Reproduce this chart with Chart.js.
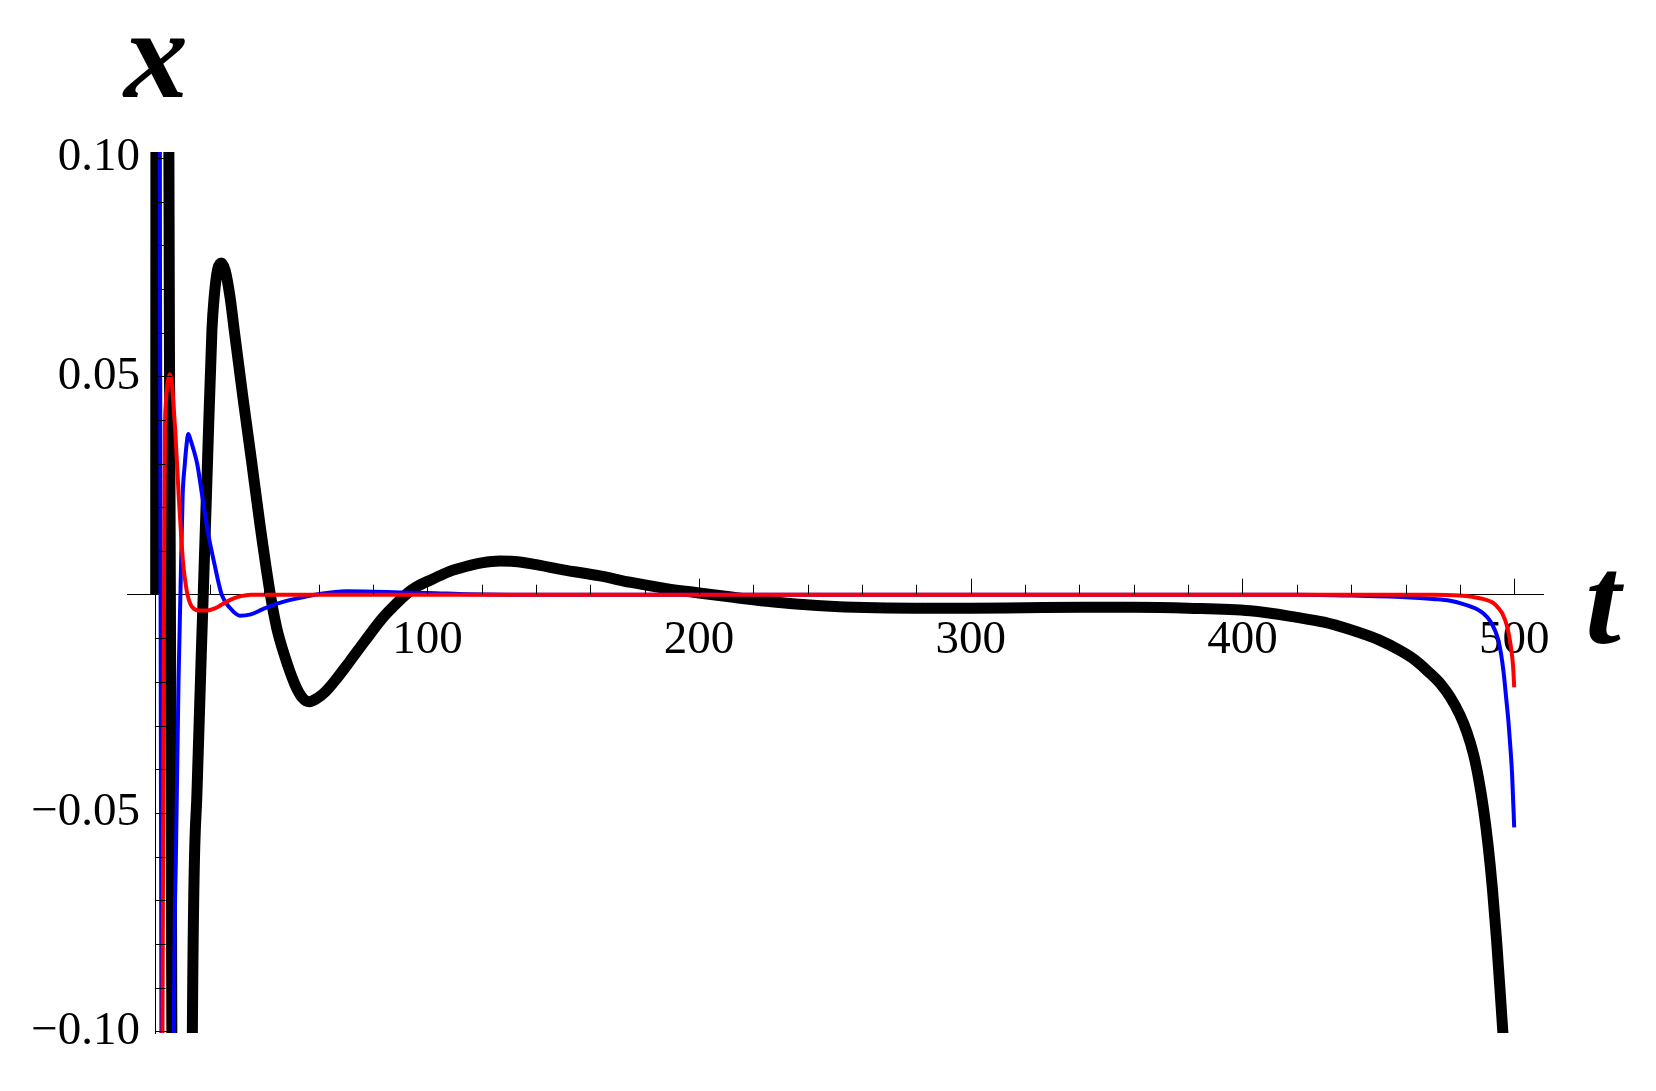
<!DOCTYPE html>
<html>
<head>
<meta charset="utf-8">
<script src="https://cdn.jsdelivr.net/npm/chart.js@4.4.1/dist/chart.umd.min.js"></script>
<style>
  html, body { margin: 0; padding: 0; background: #fff; }
  #wrap { width: 1656px; height: 1091px; }
</style>
</head>
<body>
<div id="wrap"><canvas id="myChart" width="1656" height="1091"></canvas></div>
<script>
// tick labels
const tTicks = [100, 200, 300, 400, 500];
const xTicks = [-0.10, -0.05, 0.05, 0.10];

// black curve (thick)
const tBlack = [0, 0.3, 4.2, 4.4, 5.4, 6.4, 6.6, 12.3, 13.5, 15.3, 17.5, 19.1, 20.7, 21.5, 22.8, 24.2, 25.6, 27.4, 28.9,
  32.1, 35.3, 38.5, 42.2, 44.5, 47.2, 51.2, 54, 56.5, 59.5, 62.5, 66.5, 71.4, 77, 83.7, 88, 92, 96, 102, 108, 114.4,
  120, 126.7, 132, 138.9, 150, 163.5, 175, 188, 200, 212.6, 225, 237, 250, 265, 285, 300, 320, 341, 360, 380, 402.8,
  420, 430, 439.6, 450, 458, 464, 469, 473, 476.4, 480, 482.6, 485, 487, 488.8, 490.4, 492, 493.5, 495, 495.8, 497];
const xBlack = [0, 0.3, 0.3, 0.2, 0, -0.2, -0.3, -0.3, -0.1, -0.0433, 0, 0.031, 0.0606, 0.068, 0.0745, 0.076, 0.0742, 0.068, 0.0606,
  0.0452, 0.0305, 0.0155, 0, -0.0075, -0.0135, -0.0205, -0.0236, -0.0245, -0.0237, -0.0222, -0.0193, -0.0153, -0.0106, -0.0052, -0.0024, 0, 0.0018, 0.0036, 0.0053, 0.0065,
  0.0073, 0.0077, 0.0076, 0.0070, 0.0057, 0.0043, 0.0028, 0.0014, 0.0004, -0.0006, -0.0015, -0.0022, -0.0027, -0.0030, -0.0031, -0.0031, -0.0030, -0.0029, -0.0029, -0.0031, -0.0037,
  -0.0052, -0.0063, -0.0080, -0.0103, -0.0128, -0.0152, -0.0180, -0.0205, -0.0234, -0.0275, -0.0315, -0.0365, -0.0425, -0.0495, -0.0575, -0.0675, -0.0790, -0.0925, -0.1000, -0.1120];

// blue curve
const tBlue = [0, 1.2, 1.8, 2.4, 2.7, 5.8, 6.2, 6.7, 7.5, 8.4, 9.1, 9.9, 10.7, 11.3, 12.0, 12.8, 13.8, 15.3, 17.2, 19.1, 21.6,
  24.3, 27.3, 31, 35, 39.5, 45, 51.8, 59.8, 70, 80, 90, 100, 115, 130, 420, 440, 460, 470, 476.4, 481, 486.2, 489, 491.1,
  492.8, 494.2, 495.2, 496.1, 497.1, 497.9, 498.6, 499.2, 500];
const xBlue = [0.5, 0.2, 0, -0.2, -0.35, -0.35, -0.2, -0.1, -0.0575, -0.02, 0, 0.0223, 0.0298, 0.034, 0.0368, 0.0355, 0.0335, 0.0299, 0.0223, 0.0147, 0.0071,
  0, -0.0030, -0.0048, -0.0045, -0.0033, -0.0020, -0.0009, 0.0001, 0.0008, 0.0007, 0.0005, 0.0004, 0.0001, 0, 0, -0.0002, -0.0006, -0.0010, -0.0014, -0.0021, -0.0033, -0.0045, -0.0060,
  -0.0080, -0.0105, -0.0137, -0.0178, -0.0240, -0.0292, -0.0350, -0.0408, -0.0533];

// red curve
const tRed = [0, 2.2, 2.5, 2.8, 3.1, 3.4, 3.7, 4.05, 4.5, 5.2, 5.9, 6.5, 7.2, 7.8, 8.5, 9.3, 10.1, 10.9, 11.7, 12.8, 14, 16, 19,
  22, 24.5, 27.4, 31, 35, 470, 480, 484.5, 488.8, 492.5, 494.5, 495.6, 497.4, 498.6, 499.6, 500];
const xRed = [-0.5, -0.16, -0.1, -0.045, 0.007, 0.0375, 0.0435, 0.0465, 0.0490, 0.0505, 0.0487, 0.0440, 0.0375, 0.0305, 0.0223, 0.0142, 0.0071, 0.0030, 0, -0.0022, -0.0032, -0.0036, -0.0036,
  -0.0031, -0.0022, -0.0012, -0.0004, 0, 0, -0.0002, -0.0005, -0.0010, -0.0020, -0.0033, -0.0043, -0.0073, -0.0112, -0.0165, -0.0212];

function pts(ts, xs) {
    return ts.map(function(t, i) { return { x: t, y: xs[i] }; });
}

const serif = "'Liberation Serif', 'Times New Roman', serif";

// Mathematica-like tick marks drawn from the origin of the axes
const tickMarks = {
    id: 'tickMarks',
    afterDatasetsDraw(chart) {
        const ctx = chart.ctx;
        const sx = chart.scales.x, sy = chart.scales.y;
        const x0 = sx.getPixelForValue(0), y0 = sy.getPixelForValue(0);
        ctx.save();
        ctx.strokeStyle = '#000';
        ctx.lineWidth = 1;
        ctx.beginPath();
        for (let t = 20; t <= 500; t += 20) {
            const px = Math.round(sx.getPixelForValue(t)) + 0.5;
            const len = (t % 100 === 0) ? 16 : 10;
            ctx.moveTo(px, y0);
            ctx.lineTo(px, y0 - len);
        }
        for (let k = -10; k <= 10; k++) {
            if (k === 0) continue;
            const py = Math.round(sy.getPixelForValue(k / 100)) + 0.5;
            const len = (k % 5 === 0) ? 16 : 10;
            ctx.moveTo(x0, py);
            ctx.lineTo(x0 + len, py);
        }
        ctx.stroke();

        // axis names
        ctx.fillStyle = '#000';
        ctx.font = "italic bold 128px " + serif;
        ctx.textAlign = 'center';
        ctx.textBaseline = 'alphabetic';
        ctx.fillText('x', 156, 97);
        ctx.fillText('t', 1603, 643);
        ctx.restore();
    }
};

const chart = document.getElementById('myChart');
new Chart(chart, {
    type: 'line',
    data: {
        datasets: [
            { label: 'red', data: pts(tRed, xRed), borderColor: '#ff0000', borderWidth: 4 },
            { label: 'blue', data: pts(tBlue, xBlue), borderColor: '#0000ff', borderWidth: 4 },
            { label: 'black', data: pts(tBlack, xBlack), borderColor: '#000000', borderWidth: 11 }
        ]
    },
    options: {
        responsive: false,
        animation: false,
        events: [],
        layout: { padding: { left: 127, right: 113, top: 152, bottom: 58 } },
        elements: {
            point: { radius: 0 },
            line: { cubicInterpolationMode: 'monotone', fill: false, borderJoinStyle: 'round', borderCapStyle: 'butt' }
        },
        datasets: { line: { clip: 0 } },
        plugins: { legend: { display: false }, tooltip: { enabled: false } },
        scales: {
            x: {
                type: 'linear',
                position: { y: 0 },
                min: -10.56,
                max: 510.6,
                afterFit: function(s) { s.height = 0; },
                afterBuildTicks: function(s) { s.ticks = tTicks.map(function(v) { return { value: v }; }); },
                grid: { drawOnChartArea: false, drawTicks: false },
                border: { display: true, color: '#000', width: 1 },
                ticks: {
                    padding: 18,
                    maxRotation: 0,
                    color: '#000',
                    font: { family: serif, size: 47 },
                    callback: function(v) { return String(v); }
                }
            },
            y: {
                type: 'linear',
                position: { x: 0 },
                min: -0.1004,
                max: 0.1014,
                afterFit: function(s) { s.width = 0; },
                afterBuildTicks: function(s) { s.ticks = xTicks.map(function(v) { return { value: v }; }); },
                grid: { drawOnChartArea: false, drawTicks: false },
                border: { display: true, color: '#000', width: 1 },
                ticks: {
                    color: '#000',
                    font: { family: serif, size: 47 },
                    // label sits left of the axis line; a three-per-em space keeps the gap
                    callback: function(v) {
                        const s = v < 0 ? '\u2212' + Math.abs(v).toFixed(2) : v.toFixed(2);
                        return s + '\u2004';
                    }
                }
            }
        }
    },
    plugins: [tickMarks]
});
</script>
</body>
</html>
